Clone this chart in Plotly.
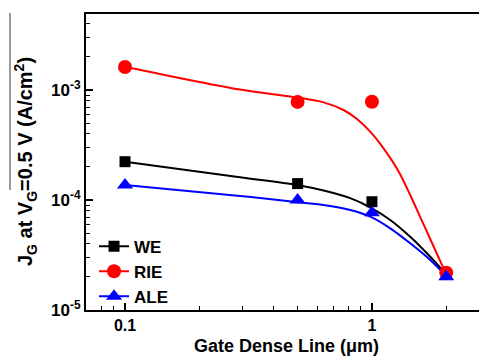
import plotly.graph_objects as go

# Measured points
gate_x = [0.1, 0.5, 1, 2]
we_vals = [2.23e-4, 1.41e-4, 9.65e-5, 2.1e-5]
rie_vals = [1.62e-3, 7.8e-4, 7.83e-4, 2.18e-5]
ale_vals = [1.37e-4, 1.0e-4, 7.67e-5, 2.01e-5]

# Fitted curves
we_fit_x = [0.1, 0.292, 0.497, 0.637, 0.817, 1.0, 1.186, 1.429, 1.722, 1.981]
we_fit_y = [2.23e-4, 1.61e-4, 1.37e-4, 1.22e-4, 1.04e-4, 8.41e-5, 6.58e-5, 4.63e-5, 3.05e-5, 2.16e-5]
rie_fit_x = [0.1, 0.292, 0.497, 0.637, 0.767, 0.870, 0.984, 1.114, 1.281, 1.429, 1.569, 1.722, 1.981]
rie_fit_y = [1.63e-3, 1.01e-3, 8.55e-4, 7.72e-4, 6.58e-4, 5.45e-4, 4.18e-4, 2.95e-4, 1.83e-4, 1.11e-4, 7.0e-5, 4.42e-5, 2.21e-5]
ale_fit_x = [0.1, 0.292, 0.482, 0.637, 0.817, 0.984, 1.186, 1.429, 1.722, 1.981]
ale_fit_y = [1.37e-4, 1.09e-4, 9.66e-5, 9.01e-5, 8.11e-5, 7.05e-5, 5.53e-5, 4.04e-5, 2.85e-5, 2.08e-5]

y_ticks = [1e-5, 1e-4, 1e-3]
y_ticktext = ["10<sup>-5</sup>", "10<sup>-4</sup>", "10<sup>-3</sup>"]
x_ticks = [0.1, 1]
x_ticktext = ["0.1", "1"]

series = [
    ("WE", we_vals, we_fit_x, we_fit_y, "black", "square", 11),
    ("RIE", rie_vals, rie_fit_x, rie_fit_y, "#ff0000", "circle", 14),
    ("ALE", ale_vals, ale_fit_x, ale_fit_y, "#0000ff", "triangle-up", 14),
]

fig = go.Figure()
for name, vals, fx, fy, color, sym, size in series:
    fig.add_trace(go.Scatter(x=fx, y=fy, mode="lines", line=dict(color=color, width=2, shape="spline", smoothing=0.9),
                             showlegend=False, hoverinfo="skip"))
for name, vals, fx, fy, color, sym, size in series:
    xs, ys = [], []
    for xv, yv in zip(gate_x, vals):
        xs += [xv, None]
        ys += [yv, None]
    fig.add_trace(go.Scatter(x=xs, y=ys, mode="lines+markers", name=name, connectgaps=False,
                             line=dict(color=color, width=2),
                             marker=dict(symbol=sym, size=size, color=color)))

fig.update_layout(
    width=479, height=354,
    margin=dict(l=78, r=0, t=6, b=52, autoexpand=False),
    paper_bgcolor="white", plot_bgcolor="white",
    font=dict(family="Liberation Sans, Arial", color="black"),
    showlegend=True,
    legend=dict(x=0.02, y=0.275, xanchor="left", yanchor="top", bgcolor="rgba(0,0,0,0)",
                font=dict(size=17, family="Liberation Sans, Arial", weight="bold"),
                tracegroupgap=0, itemwidth=30),
    xaxis=dict(type="log", range=[-1.158, 0.466], showgrid=False, zeroline=False, automargin=False,
               showline=True, linecolor="black", linewidth=2, mirror=True,
               ticks="inside", ticklen=7, tickwidth=1.5, tickcolor="black",
               tickvals=x_ticks, ticktext=x_ticktext,
               tickfont=dict(size=16, weight="bold"),
               minor=dict(ticks="inside", ticklen=4, tickwidth=1.2, tickcolor="black",
                          tickvals=[0.08, 0.09, 0.2, 0.3, 0.4, 0.5, 0.6, 0.7, 0.8, 0.9, 2]),
               title=dict(text="Gate Dense Line (μm)", font=dict(size=18, weight="bold"), standoff=6)),
    yaxis=dict(type="log", range=[-5, -2.309], showgrid=False, zeroline=False, automargin=False,
               showline=True, linecolor="black", linewidth=2, mirror=False,
               ticks="inside", ticklen=7, tickwidth=1.5, tickcolor="black",
               tickvals=y_ticks, ticktext=y_ticktext,
               tickfont=dict(size=17, weight="bold"),
               minor=dict(ticks="inside", ticklen=4, tickwidth=1.2, tickcolor="black",
                          tickvals=[k * 10.0 ** e for e in (-5, -4, -3) for k in range(2, 10)])),
    annotations=[dict(text="J<sub>G</sub> at V<sub>G</sub>=0.5 V (A/cm<sup>2</sup>)", xref="paper", yref="paper",
                      x=-0.152, y=0.50, xanchor="center", yanchor="middle", textangle=-90, showarrow=False,
                      font=dict(size=20, weight="bold"))],
    shapes=[dict(type="line", xref="paper", yref="paper", x0=-0.1895, x1=-0.1895, y0=1.003, y1=0.405,
                 line=dict(color="#777777", width=1.5))],
)

fig.write_html("out.html")
